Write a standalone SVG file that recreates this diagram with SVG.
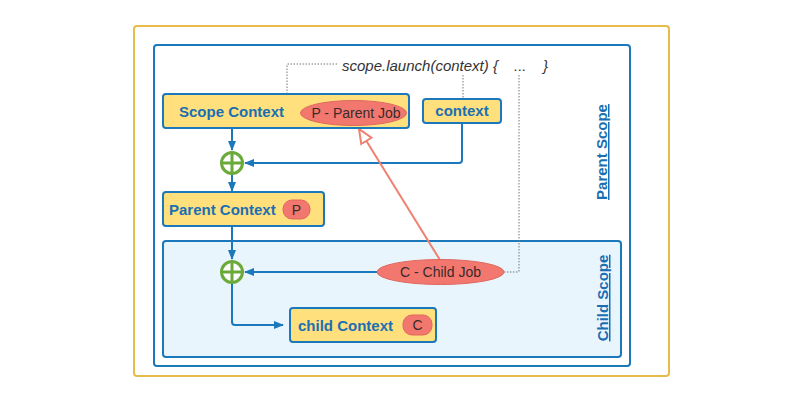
<svg xmlns="http://www.w3.org/2000/svg" width="800" height="400" viewBox="0 0 800 400">
<defs>
<style>
.box{fill:#FFE07D;stroke:#1B78BA;stroke-width:2}
.lbl{font-family:"Liberation Sans",Arial,sans-serif;font-weight:bold;font-size:15px;fill:#1A6FB2}
.job{fill:#F2786F;stroke:#E0665E;stroke-width:1}
.jt{font-family:"Liberation Sans",Arial,sans-serif;font-size:14px;fill:#3a2a2a}
.flow{fill:none;stroke:#1B78BA;stroke-width:2}
.dot{fill:none;stroke:#777;stroke-width:1;stroke-dasharray:1.5 1.5}
.plus{fill:#fff;stroke:#6BAA3A;stroke-width:3}
.scope{font-family:"Liberation Sans",Arial,sans-serif;font-weight:bold;font-size:15px;fill:#1A6FB2;text-decoration:underline}
.it{font-family:"Liberation Sans",Arial,sans-serif;font-style:italic;font-size:15px;fill:#333}
</style>
<marker id="ab" viewBox="0 0 10 10" refX="9" refY="5" markerWidth="10" markerHeight="10" markerUnits="userSpaceOnUse" orient="auto">
<path d="M0,1 L10,5 L0,9 Z" fill="#1B78BA"/>
</marker>
<marker id="ah" viewBox="0 0 16 16" refX="15" refY="8" markerWidth="16" markerHeight="16" markerUnits="userSpaceOnUse" orient="auto">
<path d="M1,2 L15,8 L1,14 Z" fill="#fff" stroke="#F08070" stroke-width="2"/>
</marker>
</defs>
<rect width="800" height="400" fill="#fff"/>
<rect x="134" y="26" width="535" height="350" rx="3" fill="#fff" stroke="#E8BC4A" stroke-width="2"/>
<g id="parent-scope">
<rect x="154" y="45" width="476" height="321" rx="3" fill="#fff" stroke="#1B78BA" stroke-width="2"/>
<text class="scope" transform="translate(607,152) rotate(-90)" text-anchor="middle">Parent Scope</text>
</g>
<g id="child-scope">
<rect x="163" y="241" width="458" height="116" rx="3" fill="#E8F5FC" stroke="#1B78BA" stroke-width="2"/>
<text class="scope" transform="translate(608,298) rotate(-90)" text-anchor="middle">Child Scope</text>
</g>
<g id="launch">
<text class="it" x="342" y="71">scope.launch(context) {</text>
<text class="it" x="514" y="71">...</text>
<text class="it" x="543" y="71">}</text>
</g>
<g id="connectors">
<path class="dot" d="M287,94 V65 Q287,64 288,64 H338"/>
<path class="dot" d="M463,75 V99"/>
<path class="dot" d="M519,75 V271 Q519,272 518,272 H504"/>
<path class="flow" d="M232,128 V150" marker-end="url(#ab)"/>
<path class="flow" d="M232,174 V191" marker-end="url(#ab)"/>
<path class="flow" d="M462,123 V160 Q462,163 459,163 H245" marker-end="url(#ab)"/>
<path class="flow" d="M232,226 V259" marker-end="url(#ab)"/>
<path class="flow" d="M377,272 H245" marker-end="url(#ab)"/>
<path class="flow" d="M232,283 V322 Q232,325 235,325 H283" marker-end="url(#ab)"/>
<path d="M440,260 L359,129" fill="none" stroke="#F08070" stroke-width="2" marker-end="url(#ah)"/>
</g>
<g id="plus1">
<circle class="plus" cx="232" cy="163" r="10.5"/>
<path d="M221.5,163 H242.5 M232,152.5 V173.5" stroke="#6BAA3A" stroke-width="3"/>
</g>
<g id="plus2">
<circle class="plus" cx="232" cy="272" r="10.5"/>
<path d="M221.5,272 H242.5 M232,261.5 V282.5" stroke="#6BAA3A" stroke-width="3"/>
</g>
<g id="scope-context">
<rect class="box" x="163" y="94" width="246" height="34" rx="3"/>
<text class="lbl" x="179" y="117">Scope Context</text>
<ellipse class="job" cx="353.5" cy="113" rx="53" ry="12.5"/>
<text class="jt" x="356" y="118" text-anchor="middle">P - Parent Job</text>
</g>
<g id="context">
<rect class="box" x="423" y="99" width="78" height="24" rx="3"/>
<text class="lbl" x="462" y="116" text-anchor="middle">context</text>
</g>
<g id="parent-context">
<rect class="box" x="163" y="192" width="161" height="34" rx="3"/>
<text class="lbl" x="169" y="215">Parent Context</text>
<rect class="job" x="283" y="200" width="27" height="19" rx="9"/>
<text class="jt" x="296.5" y="215" text-anchor="middle">P</text>
</g>
<g id="child-job">
<ellipse class="job" cx="440.5" cy="272" rx="63.5" ry="12.5"/>
<text class="jt" x="440.5" y="277" text-anchor="middle">C - Child Job</text>
</g>
<g id="child-context">
<rect class="box" x="290" y="308" width="146" height="34" rx="3"/>
<text class="lbl" x="298" y="331">child Context</text>
<rect class="job" x="403" y="315" width="29" height="20" rx="9"/>
<text class="jt" x="417.5" y="330" text-anchor="middle">C</text>
</g>
</svg>
